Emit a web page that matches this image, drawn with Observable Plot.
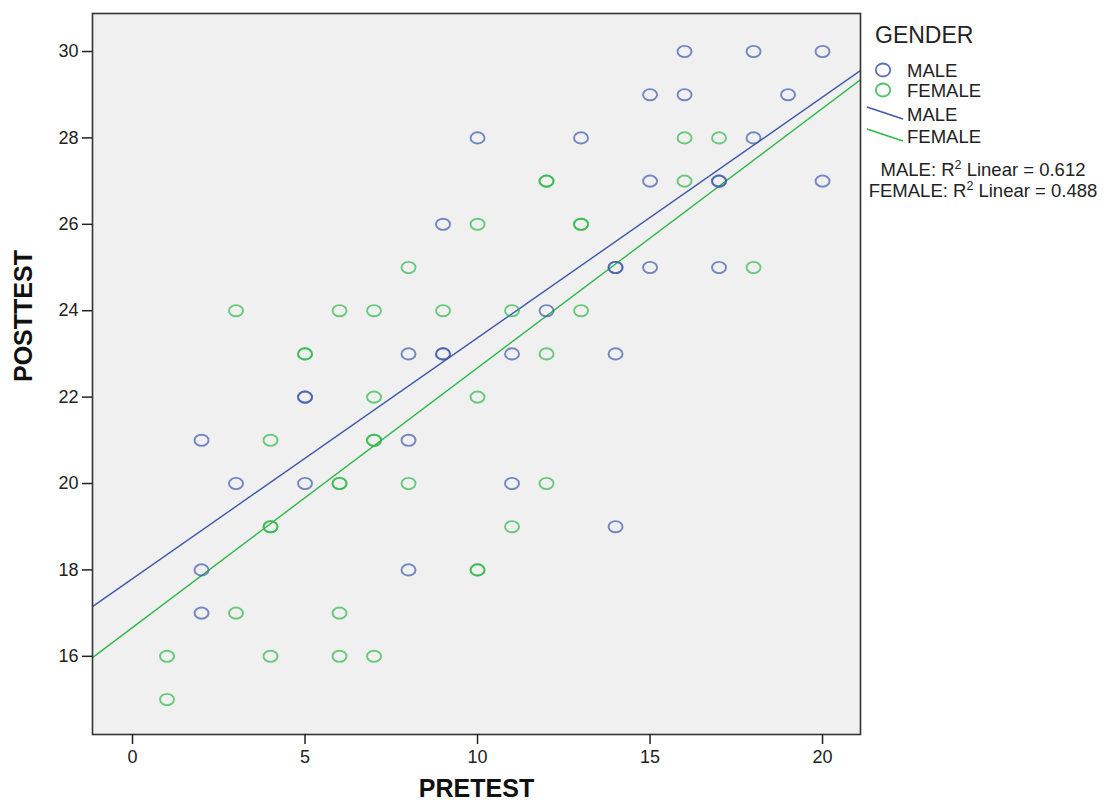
<!DOCTYPE html>
<html>
<head>
<meta charset="utf-8">
<script src="https://cdn.jsdelivr.net/npm/d3@7"></script>
<script src="https://cdn.jsdelivr.net/npm/@observablehq/plot@0.6"></script>
<style>
  body { margin: 0; background: #ffffff; }
</style>
</head>
<body>
<div id="chart"></div>
<script>
// ---------- data ----------
const groups = ["MALE", "FEMALE"];
const groupColors = ["#3e58ac", "#2eb848"];

const maleX = [16, 18, 20, 15, 16, 19, 10, 13, 18, 15, 17, 17, 20, 9, 14, 14, 15, 17, 12, 8, 9, 9, 11, 14, 5, 5, 2, 8, 3, 5, 11, 14, 2, 8, 2];
const maleY = [30, 30, 30, 29, 29, 29, 28, 28, 28, 27, 27, 27, 27, 26, 25, 25, 25, 25, 24, 23, 23, 23, 23, 23, 22, 22, 21, 21, 20, 20, 20, 19, 18, 18, 17];

const femaleX = [16, 17, 12, 12, 16, 10, 13, 13, 8, 18, 3, 6, 7, 9, 11, 13, 5, 5, 12, 7, 10, 4, 7, 7, 6, 6, 8, 12, 4, 4, 11, 10, 10, 3, 6, 1, 4, 6, 7, 1];
const femaleY = [28, 28, 27, 27, 27, 26, 26, 26, 25, 25, 24, 24, 24, 24, 24, 24, 23, 23, 23, 22, 22, 21, 21, 21, 20, 20, 20, 20, 19, 19, 19, 18, 18, 17, 17, 16, 16, 16, 16, 15];

const xTicks = [0, 5, 10, 15, 20];
const yTicks = [16, 18, 20, 22, 24, 26, 28, 30];
const xDomain = [-1.16, 21.1];
const yDomain = [14.19, 30.88];
const r2Values = ["0.612", "0.488"];
const legendTitle = "GENDER";

// ---------- derived tables ----------
const points = [
  ...maleX.map((x, i) => ({g: "MALE", x, y: maleY[i]})),
  ...femaleX.map((x, i) => ({g: "FEMALE", x, y: femaleY[i]}))
];

function fit(xs, ys) {
  const mx = d3.mean(xs), my = d3.mean(ys);
  let sxy = 0, sxx = 0;
  xs.forEach((x, i) => { sxy += (x - mx) * (ys[i] - my); sxx += (x - mx) ** 2; });
  const b = sxy / sxx;
  return {a: my - b * mx, b};
}
const fits = {MALE: fit(maleX, maleY), FEMALE: fit(femaleX, femaleY)};
const fitLines = groups.flatMap(g => xDomain.map(x => ({g, x, y: fits[g].a + fits[g].b * x})));

// elliptical hollow marker like SPSS
const ellipse = {
  draw(context, size) {
    const r = Math.sqrt(size / Math.PI);
    const rx = r * 1.0, ry = r * 0.8, k = 0.5523;
    context.moveTo(rx, 0);
    context.bezierCurveTo(rx, ry * k, rx * k, ry, 0, ry);
    context.bezierCurveTo(-rx * k, ry, -rx, ry * k, -rx, 0);
    context.bezierCurveTo(-rx, -ry * k, -rx * k, -ry, 0, -ry);
    context.bezierCurveTo(rx * k, -ry, rx, -ry * k, rx, 0);
    context.closePath();
  }
};

const FONT = "'Liberation Sans', Arial, Helvetica, sans-serif";

const plot = Plot.plot({
  width: 1109,
  height: 809,
  marginLeft: 92,
  marginRight: 249,
  marginTop: 13,
  marginBottom: 75,
  style: {fontFamily: FONT, fontSize: "18px", color: "#222", background: "#ffffff"},
  x: {domain: xDomain},
  y: {domain: yDomain},
  color: {domain: groups, range: groupColors},
  marks: [
    Plot.frame({fill: "#f0f0f0"}),
    Plot.line(fitLines, {x: "x", y: "y", z: "g", stroke: "g", strokeWidth: 1.4, clip: true}),
    Plot.dot(points, {x: "x", y: "y", stroke: "g", r: 7, symbol: ellipse, fill: "none", strokeWidth: 1.9, strokeOpacity: 0.7}),
    Plot.frame({stroke: "#333", strokeWidth: 1.6}),
    Plot.axisX({ticks: xTicks, tickSize: 10, tickPadding: 6, fontSize: 18, label: null, strokeWidth: 1.5}),
    Plot.axisY({ticks: yTicks, tickSize: 10, tickPadding: 4, fontSize: 18, label: null, strokeWidth: 1.5}),
    Plot.text(["PRETEST"], {text: d => d, frameAnchor: "bottom", dy: 62, fontSize: 25, fontWeight: "bold", fill: "#111"}),
    Plot.text(["POSTTEST"], {text: d => d, frameAnchor: "left", rotate: -90, dx: -69, dy: 8, fontSize: 25, fontWeight: "bold", fill: "#111"})
  ]
});

// ---------- legend (drawn into the same svg) ----------
const svg = d3.select(plot);
const lg = svg.append("g").attr("font-family", FONT).attr("fill", "#222").attr("text-anchor", "start");
lg.append("text").attr("x", 875).attr("y", 43).attr("font-size", 23).text(legendTitle);

groups.forEach((g, i) => {
  const cy = 70 + i * 20;
  lg.append("ellipse").attr("cx", 883).attr("cy", cy).attr("rx", 7.2).attr("ry", 6.5)
    .attr("fill", "none").attr("stroke", groupColors[i]).attr("stroke-width", 1.8).attr("stroke-opacity", 0.85);
  lg.append("text").attr("x", 907).attr("y", cy + 7).attr("font-size", 18.5).text(g);
});
groups.forEach((g, i) => {
  const y0 = 107 + i * 22;
  lg.append("line").attr("x1", 867).attr("y1", y0).attr("x2", 903).attr("y2", y0 + 12)
    .attr("stroke", groupColors[i]).attr("stroke-width", 1.4);
  lg.append("text").attr("x", 907).attr("y", y0 + 14).attr("font-size", 18.5).text(g);
});
groups.forEach((g, i) => {
  const t = lg.append("text").attr("x", 983).attr("y", 176 + i * 21)
    .attr("font-size", 18.5).attr("text-anchor", "middle");
  t.append("tspan").text(g + ": R");
  t.append("tspan").attr("dy", -7).attr("font-size", 12.5).text("2");
  t.append("tspan").attr("dy", 7).text(" Linear = " + r2Values[i]);
});

document.getElementById("chart").appendChild(plot);
</script>
</body>
</html>
